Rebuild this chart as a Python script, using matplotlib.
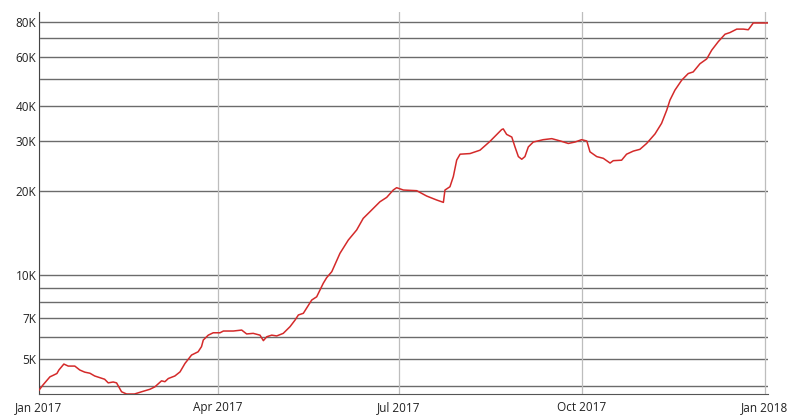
import matplotlib
matplotlib.use("Agg")
import matplotlib.pyplot as plt
import pandas as pd

plt.rcParams['font.family'] = ['Open Sans', 'DejaVu Sans']

# days since 2017-01-01
days = [0, 2, 5.5, 7, 9, 10, 12.5, 14.7, 18, 20.5, 23, 25.6, 28, 30.6, 33, 34.8, 37.3, 39,
        41.5, 44, 48, 51.6, 55.8, 58.3, 61.6, 63.3, 65, 68.3, 70.9, 73.4, 76.7, 80, 81.7,
        82.6, 85.1, 87.6, 91, 92.7, 97.7, 101.9, 104.4, 107.7, 111.1, 112.8, 114.5, 117,
        119.5, 122.8, 126.2, 128.7, 130.4, 132.9, 137.1, 139.6, 142.9, 144.6, 147.2, 151.3,
        155.5, 159.7, 163, 166.4, 171.4, 174.8, 178.1, 179.8, 183.2, 189.9, 194.9, 199.9,
        203.3, 204.1, 206.6, 208.3, 210, 211.7, 216.7, 221.7, 226.7, 232.6, 233.4, 235.1,
        237.7, 239.3, 241, 242.7, 244.3, 246, 248.5, 253.5, 257.8, 262, 266.1, 269.5, 272.8,
        275.4, 277, 280.4, 283.7, 287.1, 288.7, 292.9, 295.4, 298.8, 302.1, 305.5, 309.7,
        313, 315.6, 317.2, 319.7, 323.1, 326.4, 328.9, 332.3, 335.7, 338.2, 341.5, 344.9,
        347.4, 350.8, 354.1, 356.6, 359.1, 365.9, 366.5]
values = [3880, 4050, 4330, 4380, 4450, 4580, 4810, 4730, 4730, 4580, 4500, 4460, 4360, 4300,
          4245, 4120, 4150, 4120, 3830, 3760, 3760, 3830, 3910, 3990, 4190, 4160, 4270, 4360,
          4510, 4835, 5180, 5320, 5550, 5860, 6100, 6220, 6220, 6310, 6310, 6360, 6160, 6190,
          6100, 5830, 6020, 6100, 6060, 6190, 6540, 6900, 7200, 7300, 8140, 8360, 9340, 9780,
          10280, 11950, 13330, 14480, 15930, 16830, 18260, 18930, 20110, 20500, 20110, 20000,
          19140, 18530, 18170, 20110, 20660, 22460, 25730, 27000, 27140, 27900, 29990, 33060,
          33240, 31770, 31080, 28660, 26470, 25900, 26470, 28660, 29840, 30420, 30680, 30110,
          29490, 29840, 30420, 30100, 27530, 26470, 26100, 25100, 25600, 25700, 27000, 27700,
          28100, 29500, 31900, 34800, 38800, 42100, 45700, 49600, 52400, 53100, 56800, 59100,
          63500, 68100, 72400, 73400, 75500, 75500, 75100, 79400, 79400, 79400]

y_grid = [4000, 5000, 6000, 7000, 8000, 9000, 10000, 20000, 30000, 40000, 50000, 60000, 70000, 80000]
y_labels = ['', '5K', '', '7K', '', '', '10K', '20K', '30K', '40K', '', '60K', '', '80K']
x_ticks = ['2017-01-01', '2017-04-01', '2017-07-01', '2017-10-01', '2018-01-01']
x_labels = ['Jan 2017', 'Apr 2017', 'Jul 2017', 'Oct 2017', 'Jan 2018']

start = pd.Timestamp('2017-01-01')
dates = [start + pd.Timedelta(days=d) for d in days]

fig = plt.figure(figsize=(7.88, 4.19), dpi=100)
ax = fig.add_axes([39/788, 1 - 394/419, (768 - 39)/788, (394 - 12)/419])
ax.set_yscale('log')
ax.set_ylim(3760, 86900)
ax.set_xlim(start, start + pd.Timedelta(days=366.5))

for v in y_grid:
    ax.axhline(v, color='#6b6b6b', lw=1.0, zorder=1)
for t in x_ticks:
    ax.axvline(pd.Timestamp(t), color='#bdbdbd', lw=0.9, zorder=1)

ax.plot(dates, values, color='#d42a2a', lw=1.1, zorder=3)

ax.set_yticks(y_grid)
ax.set_yticklabels(y_labels)
ax.minorticks_off()
ax.set_xticks([pd.Timestamp(t) for t in x_ticks])
ax.set_xticklabels(x_labels)
ax.tick_params(axis='both', length=0, labelsize=8.5, colors='#222222')
ax.tick_params(axis='x', pad=5)
ax.tick_params(axis='y', pad=2)

for s in ['top', 'right']:
    ax.spines[s].set_visible(False)
ax.spines['left'].set_color('#444444')
ax.spines['bottom'].set_color('#555555')

fig.savefig('out.png', dpi=100)
